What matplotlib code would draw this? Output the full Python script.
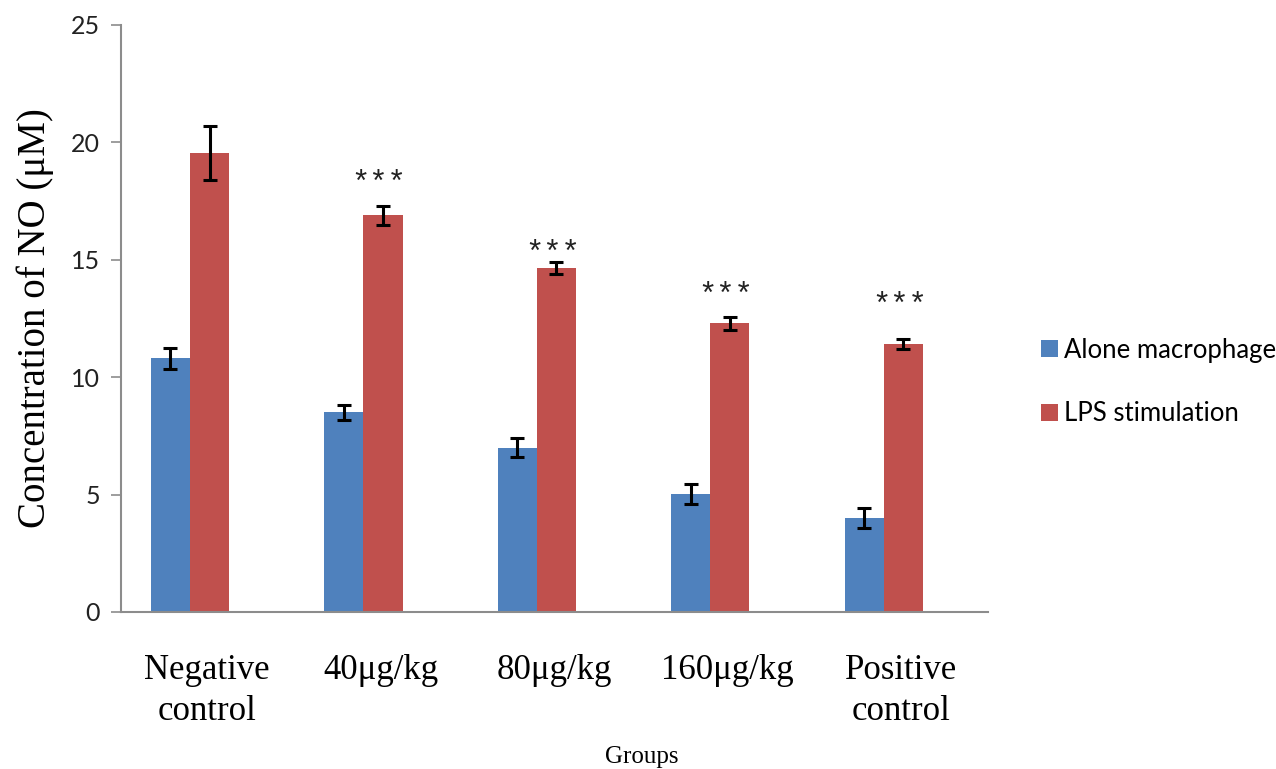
import matplotlib.pyplot as plt
import matplotlib.transforms as mtransforms
import numpy as np

groups = ["Negative\ncontrol", "40\u03bcg/kg", "80\u03bcg/kg", "160\u03bcg/kg", "Positive\ncontrol"]
alone = [10.8, 8.5, 7.0, 5.03, 4.0]
alone_err = [0.45, 0.33, 0.4, 0.42, 0.43]
lps = [19.55, 16.9, 14.65, 12.3, 11.4]
lps_err = [1.15, 0.4, 0.25, 0.27, 0.22]
marks = ["", "***", "***", "***", "***"]
mark_y = [0, 18.6, 15.6, 13.8, 13.4]

blue = "#4F81BD"
red = "#C0504D"
grey = "#8C8C8C"

fig = plt.figure(figsize=(12.76, 7.69), dpi=100)
ax = fig.add_axes([0.0948, 0.2042, 0.6795, 0.7633])

x = np.arange(len(groups))
w = 0.225
ekw = dict(ecolor="black", elinewidth=2.2, capthick=2.2, capsize=5)
ax.bar(x - w / 2, alone, w, color=blue, yerr=alone_err, error_kw=ekw, label="Alone macrophage")
ax.bar(x + w / 2, lps, w, color=red, yerr=lps_err, error_kw=ekw, label="LPS stimulation")

for i, m in enumerate(marks):
    if m:
        ax.annotate(m, (x[i] + w / 2, mark_y[i]), xytext=(-3, -6), textcoords="offset points",
                    ha="center", va="center", fontsize=22, family="Liberation Mono",
                    color="#222222")

ax.set_xlim(-0.398, 4.6)
ax.set_ylim(0, 25)
ax.set_yticks([0, 5, 10, 15, 20, 25])
ax.set_xticks(x)
ax.set_xticklabels(groups, family="Liberation Serif", fontsize=25, linespacing=1.35)
ax.tick_params(axis="x", length=0, pad=30)
shift = mtransforms.ScaledTranslation(17 / 100, 0, fig.dpi_scale_trans)
for lab in ax.get_xticklabels():
    lab.set_transform(lab.get_transform() + shift)
ax.tick_params(axis="y", direction="out", length=7, width=1.2, color=grey, pad=8,
               labelsize=18)
for lab in ax.get_yticklabels():
    lab.set_family("Lato")
    lab.set_color("#222222")

for s in ["top", "right"]:
    ax.spines[s].set_visible(False)
for s in ["left", "bottom"]:
    ax.spines[s].set_color(grey)
    ax.spines[s].set_linewidth(1.5)

ax.set_ylabel("Concentration of NO (\u03bcM)", family="Liberation Serif", fontsize=28, labelpad=12)
fig.text(0.503, 0.015, "Groups", family="Liberation Serif", fontsize=18, ha="center", va="center")

leg = fig.legend(loc="center left", bbox_to_anchor=(0.798, 0.503), frameon=False,
                 handlelength=0.65, handleheight=0.65, handletextpad=0.25, labelspacing=1.5,
                 prop={"family": "Lato", "size": 18.5})

fig.savefig("out.png", dpi=100)
